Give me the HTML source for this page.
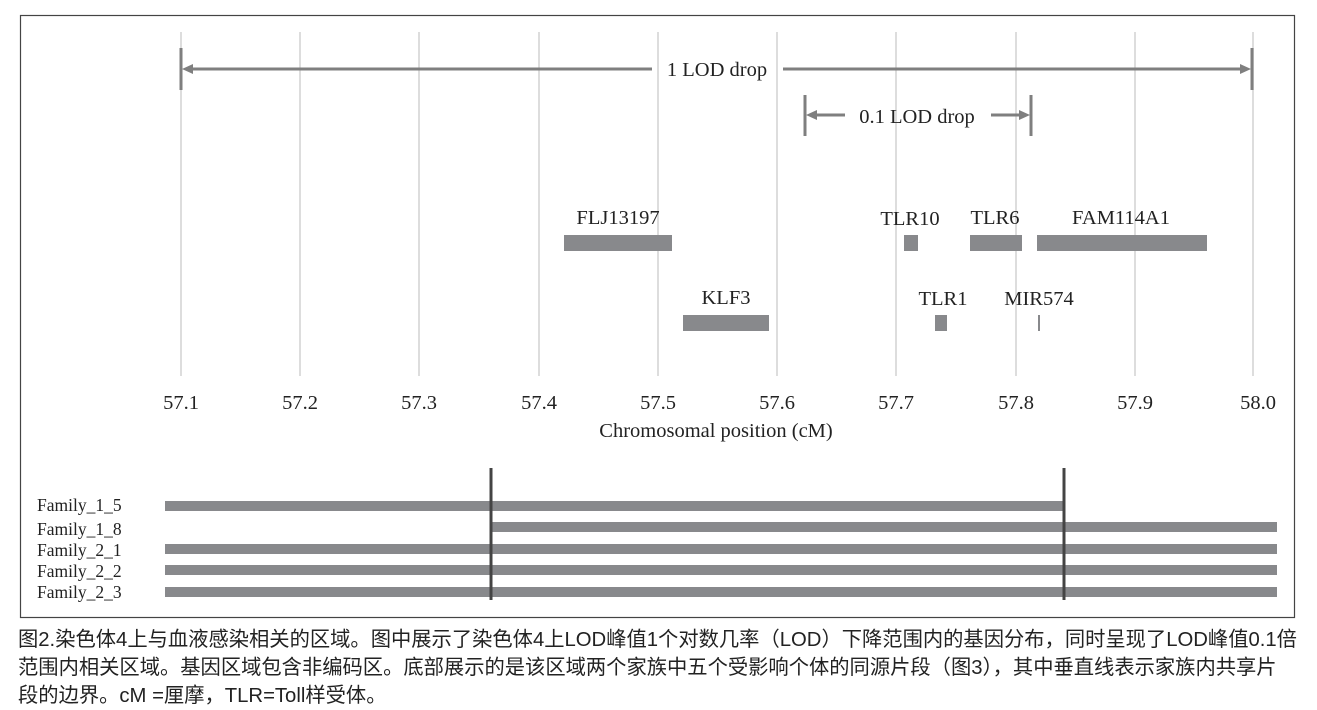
<!DOCTYPE html>
<html><head><meta charset="utf-8"><style>
body{margin:0;background:#fff;width:1317px;height:708px;overflow:hidden}
.cap{position:absolute;left:18px;top:626px;width:1300px;white-space:nowrap;font-family:"Liberation Sans","Noto Sans CJK SC",sans-serif;font-size:20.3px;line-height:28px;color:#222}
</style></head><body>
<svg width="1317" height="708" style="position:absolute;left:0;top:0" font-family="Liberation Serif, serif">
<rect x="20.5" y="15.5" width="1274" height="602" fill="none" stroke="#444" stroke-width="1.2"/>
<g stroke="#ddd" stroke-width="2">
<line x1="181" y1="32" x2="181" y2="376"/><line x1="300" y1="32" x2="300" y2="376"/><line x1="419" y1="32" x2="419" y2="376"/><line x1="539" y1="32" x2="539" y2="376"/><line x1="658" y1="32" x2="658" y2="376"/><line x1="777" y1="32" x2="777" y2="376"/><line x1="896" y1="32" x2="896" y2="376"/><line x1="1016" y1="32" x2="1016" y2="376"/><line x1="1135" y1="32" x2="1135" y2="376"/><line x1="1253" y1="32" x2="1253" y2="376"/>
</g>
<g stroke="#7f7f7f" stroke-width="3" fill="#7f7f7f">
<line x1="181" y1="48" x2="181" y2="90"/><line x1="1252" y1="48" x2="1252" y2="90"/>
<line x1="188" y1="69" x2="652" y2="69"/><line x1="783" y1="69" x2="1244" y2="69"/>
<polygon points="182,69 193,64 193,74" stroke="none"/><polygon points="1251,69 1240,64 1240,74" stroke="none"/>
<line x1="805" y1="95" x2="805" y2="136"/><line x1="1031" y1="95" x2="1031" y2="136"/>
<line x1="812" y1="115" x2="845" y2="115"/><line x1="991" y1="115" x2="1024" y2="115"/>
<polygon points="806,115 817,110 817,120" stroke="none"/><polygon points="1030,115 1019,110 1019,120" stroke="none"/>
</g>
<g font-size="20.5" fill="#222" text-anchor="middle">
<text x="717" y="76">1 LOD drop</text>
<text x="917" y="123">0.1 LOD drop</text>
<text x="618" y="224">FLJ13197</text>
<text x="910" y="225">TLR10</text>
<text x="995" y="224">TLR6</text>
<text x="1121" y="224">FAM114A1</text>
<text x="726" y="304">KLF3</text>
<text x="943" y="305">TLR1</text>
<text x="1039" y="305">MIR574</text>
</g>
<g fill="#88898c">
<rect x="564" y="235" width="108" height="16"/>
<rect x="904" y="235" width="14" height="16"/>
<rect x="970" y="235" width="52" height="16"/>
<rect x="1037" y="235" width="170" height="16"/>
<rect x="683" y="315" width="86" height="16"/>
<rect x="935" y="315" width="12" height="16"/>
<rect x="1038" y="315" width="2" height="16"/>
</g>
<g font-size="20.5" fill="#222" text-anchor="middle">
<text x="181" y="409">57.1</text><text x="300" y="409">57.2</text><text x="419" y="409">57.3</text><text x="539" y="409">57.4</text><text x="658" y="409">57.5</text><text x="777" y="409">57.6</text><text x="896" y="409">57.7</text><text x="1016" y="409">57.8</text><text x="1135" y="409">57.9</text><text x="1258" y="409">58.0</text>
<text x="716" y="437">Chromosomal position (cM)</text>
</g>
<g fill="#88898c">
<rect x="165" y="501" width="899" height="10"/>
<rect x="491" y="522" width="786" height="10"/>
<rect x="165" y="544" width="1112" height="10"/>
<rect x="165" y="565" width="1112" height="10"/>
<rect x="165" y="587" width="1112" height="10"/>
</g>
<g stroke="#444" stroke-width="3">
<line x1="491" y1="468" x2="491" y2="600"/><line x1="1064" y1="468" x2="1064" y2="600"/>
</g>
<g font-size="17.5" fill="#222">
<text x="37" y="511">Family_1_5</text><text x="37" y="535">Family_1_8</text><text x="37" y="556">Family_2_1</text><text x="37" y="577">Family_2_2</text><text x="37" y="598">Family_2_3</text>
</g>
</svg>
<div class="cap">图2.染色体4上与血液感染相关的区域。图中展示了染色体4上LOD峰值1个对数几率（LOD）下降范围内的基因分布，同时呈现了LOD峰值0.1倍<br>范围内相关区域。基因区域包含非编码区。底部展示的是该区域两个家族中五个受影响个体的同源片段（图3），其中垂直线表示家族内共享片<br>段的边界。cM =厘摩，TLR=Toll样受体。</div>
</body></html>
